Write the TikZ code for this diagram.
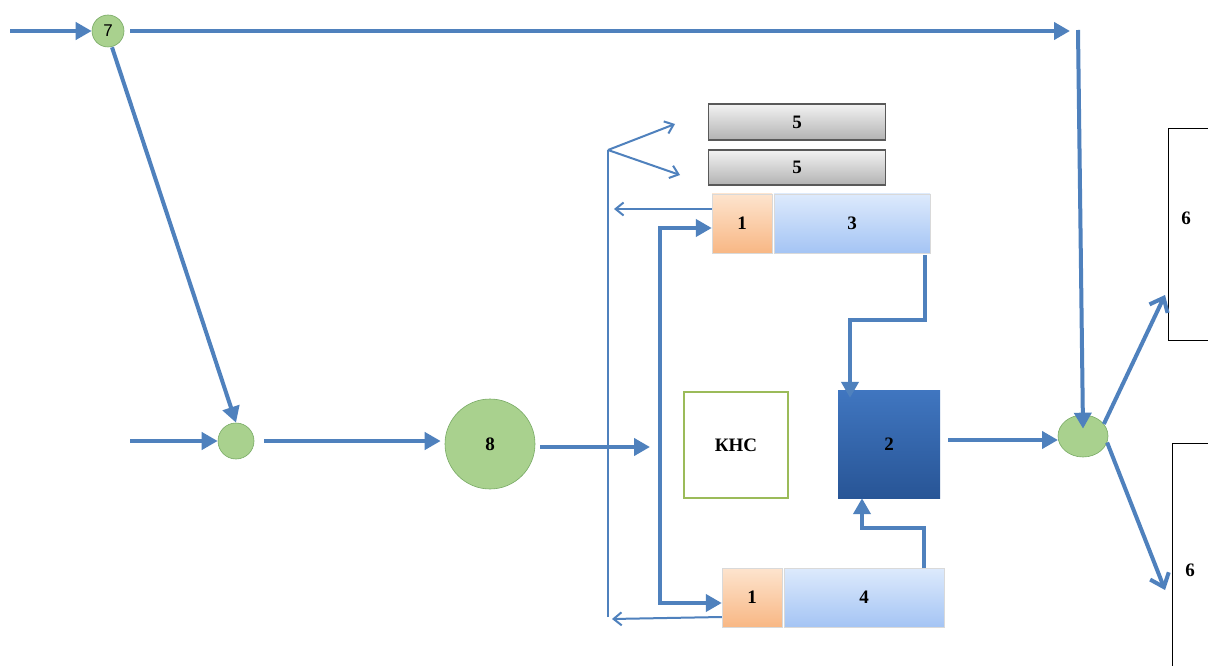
\documentclass[tikz,border=0pt]{standalone}
\usepackage{fontspec}
\setmainfont{Liberation Serif}
\newfontfamily\arialf{Liberation Sans}
\usetikzlibrary{arrows.meta,shapes.geometric}
\definecolor{flow}{RGB}{79,129,189}
\definecolor{gfill}{RGB}{169,209,142}
\definecolor{gdraw}{RGB}{120,170,100}
\definecolor{kns}{RGB}{155,187,89}
\tikzset{
  main/.style={draw=flow,line width=4pt,-{Triangle[length=16pt,width=17pt]}},
  thin/.style={draw=flow,line width=2pt,-{Straight Barb[length=8pt,width=13pt,line width=2pt]}},
  openarr/.style={draw=flow,line width=4pt,-{Straight Barb[length=12pt,width=20pt,line width=4pt]}},
  gcirc/.style={circle,fill=gfill,draw=gdraw,line width=0.6pt,inner sep=0pt,font=\bfseries\fontsize{19}{21}\selectfont},
  lbl/.style={font=\bfseries\fontsize{19}{21}\selectfont},
  graybox/.style={rectangle,top color=black!5,bottom color=black!30,draw=black!65,line width=1.4pt,inner sep=0pt,lbl},
  orbox/.style={rectangle,top color={rgb,255:red,253;green,228;blue,206},bottom color={rgb,255:red,248;green,183;blue,132},draw=black!15,line width=0.4pt,inner sep=0pt,lbl},
  blbox/.style={rectangle,top color={rgb,255:red,221;green,234;blue,252},bottom color={rgb,255:red,164;green,196;blue,244},draw=black!15,line width=0.4pt,inner sep=0pt,lbl},
  whbox/.style={rectangle,draw=black,line width=0.8pt,fill=white,inner sep=0pt},
}
\begin{document}
\begin{tikzpicture}[x=1pt,y=-1pt]
\useasboundingbox[fill=white] (0,0) rectangle (1208,666);
% nodes
\node[gcirc,minimum size=32pt,font=\arialf\fontsize{17}{19}\selectfont] (n7) at (108,31) {7};
\node[gcirc,minimum size=36pt] (nm) at (236,441) {};
\node[gcirc,minimum size=90pt] (n8) at (490,444) {8};
\node[ellipse,fill=gfill,draw=gdraw,line width=0.6pt,minimum width=50pt,minimum height=42pt,inner sep=0pt] (nr) at (1083,436) {};
\node[rectangle,draw=kns,line width=2pt,minimum width=104pt,minimum height=106pt,lbl] (knc) at (736,445) {КНС};
\node[rectangle,top color={rgb,255:red,64;green,118;blue,192},bottom color={rgb,255:red,40;green,85;blue,150},minimum width=102pt,minimum height=108pt,inner sep=0pt,lbl] (b2) at (889,444) {2};
\node[graybox,minimum width=177pt,minimum height=36pt] (b5a) at (797,122) {5};
\node[graybox,minimum width=177pt,minimum height=35pt] (b5b) at (797,167.5) {5};
\node[orbox,minimum width=60pt,minimum height=59pt] (b1a) at (742,223.5) {1};
\node[blbox,minimum width=156pt,minimum height=59pt] (b3) at (852,223.5) {3};
\node[orbox,minimum width=60pt,minimum height=59pt] (b1b) at (752,597.5) {1};
\node[blbox,minimum width=160pt,minimum height=59pt] (b4) at (864,597.5) {4};
\node[whbox,minimum width=62pt,minimum height=212pt] (b6a) at (1199,234) {};
\node[lbl] (t6a) at (1186,218) {6};
\node[whbox,minimum width=62pt,minimum height=250pt] (b6b) at (1203,568) {};
\node[lbl] (t6b) at (1190,570) {6};
% coordinates
\coordinate (in1) at (10,31);
\coordinate (in2) at (130,441);
\coordinate (topEnd) at (1070,31);
\coordinate (topV) at (1078,30);
\coordinate (e8) at (650,447);
\coordinate (vb) at (608,617);
\coordinate (vt) at (608,150);
\coordinate (s1) at (675,124);
\coordinate (s2) at (680,175);
\coordinate (ra) at (614,209);
\coordinate (rb) at (612,619);
\coordinate (lk1) at (660,228);
\coordinate (lk2) at (660,603);
\coordinate (p3a) at (925,255);
\coordinate (p3b) at (925,320);
\coordinate (p3c) at (850,320);
\coordinate (p4a) at (924,568);
\coordinate (p4b) at (924,528);
\coordinate (p4c) at (862,528);
\coordinate (o1) at (1165,295);
\coordinate (o2) at (1165,590);
\coordinate (e2) at (1058,440);
% connectors
\draw[main] (in1) -- (n7.west);
\draw[main,shorten <=6pt] (n7.east) -- (topEnd);
\draw[main] (topV) -- ([yshift=-14pt]nr.north);
\draw[main] ([xshift=4pt]n7.south) -- (nm.north);
\draw[main] (in2) -- (nm.west);
\draw[main,shorten <=10pt,shorten >=4pt] (nm.east) -- (n8.west |- nm.east);
\draw[main,shorten <=5pt] (n8.east |- e8) -- (e8);
\draw[main,shorten <=8pt] (b2.east |- e2) -- (e2);
\draw[openarr] (nr.30) -- (o1);
\draw[openarr] (nr.-15) -- (o2);
% thin distribution lines
\draw[draw=flow,line width=2pt] (vb) -- (vt);
\draw[thin] (vt) -- (s1);
\draw[thin] (vt) -- (s2);
\draw[thin] (b1a.west |- ra) -- (ra);
\draw[thin] (b1b.west |- 0,617) -- (rb);
% thick return loop
\draw[main] (lk1 |- 0,600) -- (lk2) -- (b1b.west |- lk2);
\draw[main] (lk2) -- (lk1) -- (b1a.west |- lk1);
\draw[main] (p3a) -- (p3b) -- (p3c) -- ([yshift=-8pt]p3c |- b2.north);
\draw[main] (p4a) -- (p4b) -- (p4c) -- (p4c |- b2.south);
\end{tikzpicture}
\end{document}
